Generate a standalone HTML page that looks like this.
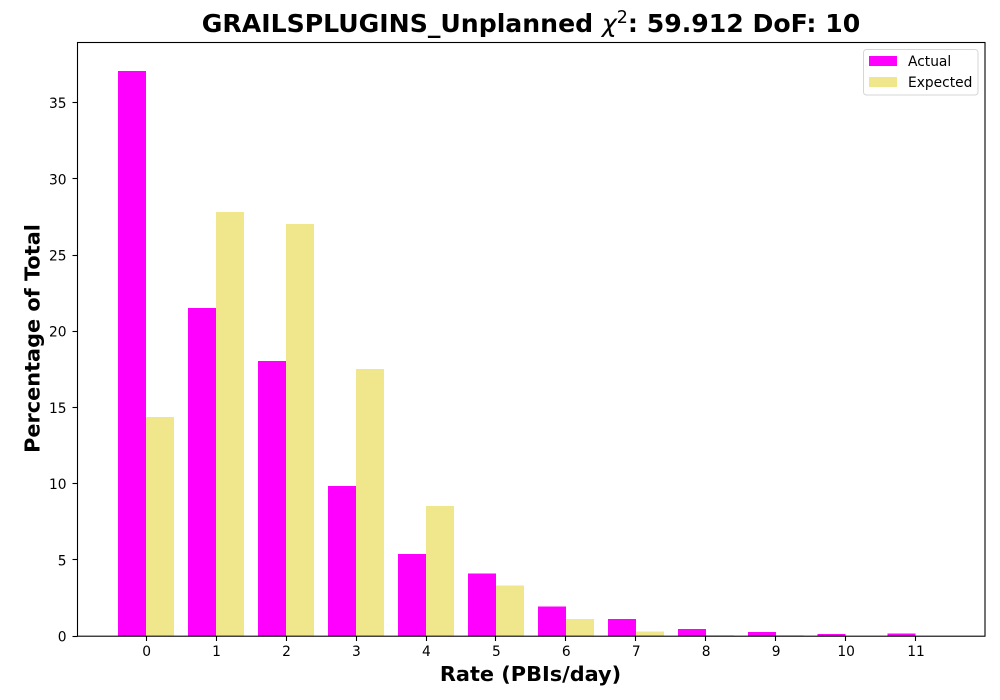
<!DOCTYPE html>
<html>
<head>
<meta charset="utf-8">
<style>
html,body{margin:0;padding:0;background:#fff;}
svg{display:block;font-family:"DejaVu Sans","Liberation Sans",sans-serif;}
</style>
</head>
<body>
<svg id="chart" width="1000" height="700" viewBox="0 0 1000 700" xmlns="http://www.w3.org/2000/svg">
  <rect x="0" y="0" width="1000" height="700" fill="#fff"/>
  <g id="bars" shape-rendering="crispEdges"></g>
  <g id="ticks"></g>
  <rect x="77.5" y="42.5" width="907.5" height="593.7" fill="none" stroke="#000" stroke-width="1.1"/>
  <text x="531" y="32" text-anchor="middle" font-size="25.15px" font-weight="700" fill="#000">GRAILSPLUGINS_Unplanned <tspan font-style="italic" font-weight="400">χ</tspan><tspan font-weight="400" font-size="17.5px" dy="-9">2</tspan><tspan dy="9">: 59.912 DoF: 10</tspan></text>
  <text x="530.5" y="681" text-anchor="middle" font-size="20.83px" font-weight="700" fill="#000">Rate (PBIs/day)</text>
  <text transform="translate(39.5,338.5) rotate(-90)" text-anchor="middle" font-size="20.83px" font-weight="700" fill="#000">Percentage of Total</text>
  <g>
    <rect x="863.5" y="49.5" width="114.5" height="45.5" rx="3" ry="3" fill="#fff" stroke="#d6d6d6" stroke-width="1"/>
    <rect x="869" y="56" width="28" height="10" fill="#ff00ff" shape-rendering="crispEdges"/>
    <text x="908" y="66" font-size="13.8px" fill="#000">Actual</text>
    <rect x="869" y="77" width="28" height="10" fill="#f0e68c" shape-rendering="crispEdges"/>
    <text x="908" y="87" font-size="13.8px" fill="#000">Expected</text>
  </g>
</svg>
<script>
const categories = [0, 1, 2, 3, 4, 5, 6, 7, 8, 9, 10, 11];
const actualValues = [37.07, 21.52, 18.04, 9.84, 5.38, 4.1, 1.95, 1.1, 0.45, 0.25, 0.12, 0.18];
const expectedValues = [14.37, 27.82, 27.03, 17.52, 8.53, 3.32, 1.1, 0.3, 0.07, 0.05, 0.01, 0.0];
const yTickLabels = [0, 5, 10, 15, 20, 25, 30, 35];

const NS = 'http://www.w3.org/2000/svg';
const xScale = v => 146.2 + v * 69.95;
const yScale = v => 636 - v * 15.24;
const barWidth = 0.4;
const barsGroup = document.getElementById('bars');
const ticksGroup = document.getElementById('ticks');

function drawBar(cat, val, offset, color) {
  const r = document.createElementNS(NS, 'rect');
  const x0 = xScale(cat + offset);
  const x1 = xScale(cat + offset + barWidth);
  r.setAttribute('x', x0);
  r.setAttribute('y', yScale(val));
  r.setAttribute('width', x1 - x0);
  r.setAttribute('height', yScale(0) - yScale(val));
  r.setAttribute('fill', color);
  return r;
}

categories.forEach((c, i) => {
  const a = drawBar(c, actualValues[i], -barWidth, '#ff00ff');
  
  
  barsGroup.appendChild(a);

  const e = drawBar(c, expectedValues[i], 0, '#f0e68c');
  
  
  barsGroup.appendChild(e);

  const t = document.createElementNS(NS, 'line');
  t.setAttribute('x1', Math.floor(xScale(c)) + 0.5);
  t.setAttribute('x2', Math.floor(xScale(c)) + 0.5);
  t.setAttribute('y1', 636);
  t.setAttribute('y2', 641);
  t.setAttribute('stroke', '#000');
  t.setAttribute('stroke-width', '1.1');
  
  
  ticksGroup.appendChild(t);

  const l = document.createElementNS(NS, 'text');
  l.setAttribute('x', xScale(c) + 0.4);
  l.setAttribute('y', 656);
  l.setAttribute('text-anchor', 'middle');
  l.setAttribute('font-size', '13.8px');
  l.textContent = String(c);
  
  
  ticksGroup.appendChild(l);
});

yTickLabels.forEach(v => {
  const t = document.createElementNS(NS, 'line');
  t.setAttribute('x1', 72.5);
  t.setAttribute('x2', 77.5);
  t.setAttribute('y1', Math.floor(yScale(v)) + 0.5);
  t.setAttribute('y2', Math.floor(yScale(v)) + 0.5);
  t.setAttribute('stroke', '#000');
  t.setAttribute('stroke-width', '1.1');
  
  
  ticksGroup.appendChild(t);

  const l = document.createElementNS(NS, 'text');
  l.setAttribute('x', 66.5);
  l.setAttribute('y', yScale(v) + 5.5);
  l.setAttribute('text-anchor', 'end');
  l.setAttribute('font-size', '13.8px');
  l.textContent = String(v);
  
  
  ticksGroup.appendChild(l);
});
</script>
</body>
</html>
